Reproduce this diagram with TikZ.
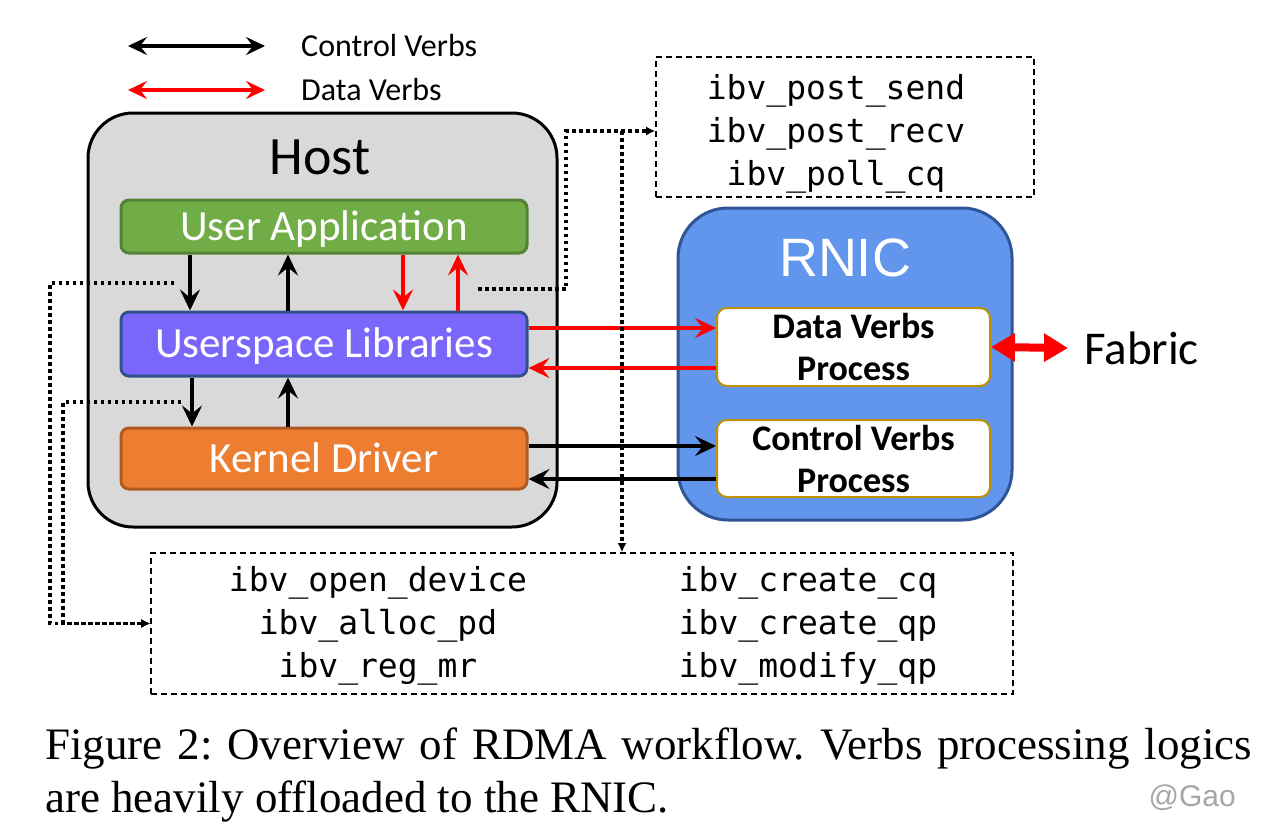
\documentclass[tikz,border=0pt]{standalone}
\usepackage{fontspec}
\setmainfont{Carlito}
\newfontfamily\arialfont{Liberation Sans}
\newfontfamily\timesfont{Liberation Serif}
\setmonofont{DejaVu Sans Mono}
\usetikzlibrary{arrows.meta,calc}

\definecolor{hostgray}{HTML}{D9D9D9}
\definecolor{appgreen}{HTML}{70AD47}
\definecolor{appgreenD}{HTML}{548235}
\definecolor{libpurple}{HTML}{7B66FB}
\definecolor{libpurpleD}{HTML}{2F528F}
\definecolor{kernorange}{HTML}{ED7D31}
\definecolor{kernorangeD}{HTML}{AE5A21}
\definecolor{rnicblue}{HTML}{6196EC}
\definecolor{rnicblueD}{HTML}{2F5597}
\definecolor{procgold}{HTML}{BF9000}

\tikzset{
  layer/.style={rounded corners=8pt, line width=3pt, minimum width=406pt,
    inner sep=0pt, text=white, text height=27pt, text depth=0pt,
    font=\fontsize{43}{43}\selectfont},
  proc/.style={draw=procgold, fill=white, rounded corners=10pt, line width=2pt,
    minimum width=273pt, align=center, inner sep=0pt,
    font=\bfseries\fontsize{36}{42}\selectfont},
  ctl/.style={line width=3.5pt, -{Stealth[length=21pt,width=20pt,inset=8pt]}},
  dat/.style={ctl, red},
  twoway/.style={line width=3.5pt, {Stealth[length=19pt,width=18pt,inset=7pt]}-{Stealth[length=19pt,width=18pt,inset=7pt]}},
  dotconn/.style={line width=3.5pt, dash pattern=on 3.5pt off 3.5pt, -{Latex[length=9pt,width=9pt]}},
  fnlist/.style={draw, line width=1.6pt, dash pattern=on 6pt off 4pt, inner sep=0pt},
  fntext/.style={align=center, inner sep=0pt, font=\ttfamily\fontsize{33}{43}\selectfont}
}

\begin{document}
\begin{tikzpicture}[x=1pt, y=-1pt]
\useasboundingbox (0,0) rectangle (1274,836);

% legend
\node[anchor=west, inner sep=0pt, font=\fontsize{32}{32}\selectfont] (lgctl) at (301,46) {Control Verbs};
\node[anchor=west, inner sep=0pt, font=\fontsize{32}{32}\selectfont] (lgdat) at (301,90) {Data Verbs};
\draw[twoway] (128,46) -- (265,46);
\draw[twoway, red] (128,90) -- (265,90);

% host side
\node[draw, fill=hostgray, rounded corners=45pt, line width=3pt,
  minimum width=469pt, minimum height=414pt] (host) at (322.5,320) {};
\node[inner sep=0pt, font=\fontsize{54}{54}\selectfont] (hostlbl) at (320,157) {Host};
\node[layer, fill=appgreen, draw=appgreenD, minimum height=53pt] (app) at (324,226.5) {User Application};
\node[layer, fill=libpurple, draw=libpurpleD, minimum height=64pt] (lib) at (324,344) {Userspace Libraries};
\node[layer, fill=kernorange, draw=kernorangeD, minimum height=61pt] (kern) at (324,458.5) {Kernel Driver};

\draw[ctl] (app.south -| 190,0) -- (lib.north -| 190,0);
\draw[ctl] (lib.north -| 288,0) -- (app.south -| 288,0);
\draw[dat] (app.south -| 403,0) -- (lib.north -| 403,0);
\draw[dat] (lib.north -| 458,0) -- (app.south -| 458,0);
\draw[ctl] (lib.south -| 192,0) -- (kern.north -| 192,0);
\draw[ctl] (kern.north -| 288,0) -- (lib.south -| 288,0);

% RNIC side
\node[draw=rnicblueD, fill=rnicblue, rounded corners=50pt, line width=3pt,
  minimum width=334pt, minimum height=312pt] (rnic) at (845,364) {};
\node[inner sep=0pt, text=white, font=\arialfont\fontsize{54}{54}\selectfont] (rniclbl) at (845,258) {RNIC};
\node[proc, minimum height=78pt] (dvp) at (853.5,347) {Data Verbs\\Process};
\node[proc, minimum height=77pt] (cvp) at (853.5,458.5) {Control Verbs\\Process};
\node[anchor=west, inner sep=0pt, font=\fontsize{47}{47}\selectfont] (fab) at (1084,348) {Fabric};

\draw[dat] (lib.east |- 0,328) -- (dvp.west |- 0,328);
\draw[dat] (dvp.west |- 0,368) -- (lib.east |- 0,368);
\draw[ctl] (kern.east |- 0,446) -- (cvp.west |- 0,446);
\draw[ctl] (cvp.west |- 0,479) -- (kern.east |- 0,479);
\draw[red, line width=8pt, {Triangle[length=24pt,width=27pt]}-{Triangle[length=24pt,width=27pt]}]
  (dvp.east) -- ($(fab.west)+(-16,0)$);

% verb lists
\node[fnlist, minimum width=378pt, minimum height=140pt] (datlist) at (845,127) {};
\node[fntext] (datfn) at (836,134) {ibv\_post\_send\\ibv\_post\_recv\\ibv\_poll\_cq};
\node[fnlist, minimum width=862pt, minimum height=141pt] (ctllist) at (582,623.5) {};
\node[fntext] (ctlfnA) at (378,626) {ibv\_open\_device\\ibv\_alloc\_pd\\ibv\_reg\_mr};
\node[fntext] (ctlfnB) at (808,626) {ibv\_create\_cq\\ibv\_create\_qp\\ibv\_modify\_qp};

% dotted pointers
\coordinate (appdot) at (478,289);
\coordinate (split) at (622,131);
\coordinate (libdot) at (174,283);
\coordinate (kerndot) at (181,402);
\draw[dotconn] (appdot) -- (566,289) |- (datlist.west |- split);
\draw[dotconn] (split) -- (ctllist.north -| split);
\draw[dotconn] (libdot) -- (50,283) |- (ctllist.west);
\draw[dotconn] (kerndot) -- (63,402) |- (ctllist.west);

% caption
\node[anchor=base west, inner sep=0pt, font=\timesfont\fontsize{45}{45}\selectfont\frenchspacing] (cap1) at (45,759)
  {\makebox[1207pt][s]{Figure 2: Overview of RDMA workflow. Verbs processing logics}};
\node[anchor=base west, inner sep=0pt, font=\timesfont\fontsize{45}{45}\selectfont] (cap2) at (45,812)
  {are heavily offloaded to the RNIC.};
\node[anchor=base east, inner sep=0pt, text=black!35, font=\arialfont\fontsize{30}{30}\selectfont] (mark) at (1236,806) {@Gao};
\end{tikzpicture}
\end{document}
